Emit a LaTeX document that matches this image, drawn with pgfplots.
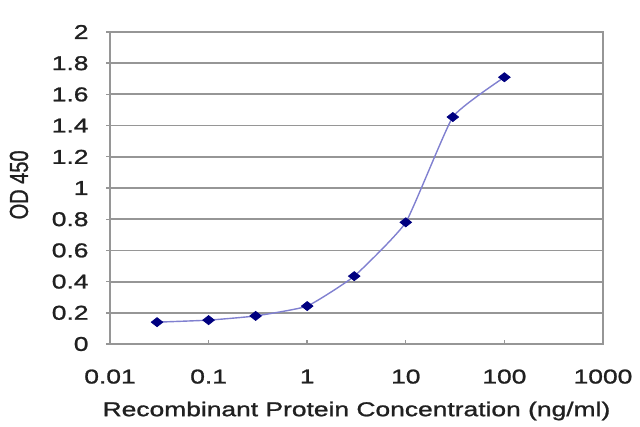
\documentclass[border=0pt]{standalone}
\usepackage{pgfplots}
\pgfplotsset{compat=1.18}
\usepackage{fontspec}
\setmainfont[FakeStretch=1.32,FakeBold=1.2]{Liberation Sans}
\newfontfamily\plainfont[FakeBold=1.2]{Liberation Sans}
\definecolor{linec}{HTML}{8080D0}
\definecolor{markc}{HTML}{000080}
\definecolor{gridc}{HTML}{969696}
\definecolor{txt}{HTML}{202020}
\begin{document}
\begin{tikzpicture}
\useasboundingbox (-110bp,-83bp) rectangle (530bp,344bp);
\begin{axis}[
  at={(0,0)}, anchor=south west,
  scale only axis, width=493bp, height=312bp,
  xmode=log, xmin=0.01, xmax=1000, ymin=0, ymax=2,
  xtick={0.01,0.1,1,10,100,1000},
  xticklabels={0.01,0.1,1,10,100,1000},
  ytick={0,0.2,0.4,0.6,0.8,1,1.2,1.4,1.6,1.8,2},
  yticklabels={0,0.2,0.4,0.6,0.8,1,1.2,1.4,1.6,1.8,2},
  xminorticks=false, yminorticks=false,
  /pgf/number format/assume math mode=true,
  ymajorgrids, grid style={gridc, line width=1.8bp},
  axis line style={gridc, line width=1.8bp},
  tick pos=left,
  xtick align=inside, ytick align=outside,
  major tick length=4bp,
  tick style={gridc, line width=1.4bp},
  ticklabel style={font=\fontsize{20bp}{24bp}\selectfont, text=txt},
  xticklabel style={yshift=-22bp},
  yticklabel style={xshift=-14bp},
  xlabel={Recombinant Protein Concentration (ng/ml)},
  xlabel style={at={(axis description cs:0.5,0)}, anchor=center, yshift=-67bp,
    font=\fontsize{20bp}{24bp}\selectfont, text=txt},
  ylabel={\scalebox{1}[1.3]{\plainfont OD 450}},
  ylabel style={at={(axis description cs:-0.1846,0.51)}, anchor=center,
    font=\fontsize{20bp}{24bp}\selectfont, text=txt},
  clip=false,
]
\addplot[linec, line width=1.4bp, smooth, tension=0.25,
  mark=diamond*, mark size=4.5bp, mark options={markc, fill=markc, line width=0.8bp, xscale=1.7}]
  coordinates {
  (0.03,0.14) (0.1,0.153) (0.3,0.18) (1,0.243) (3,0.435) (10,0.78) (30,1.455) (100,1.71)
  };
\end{axis}
\end{tikzpicture}
\end{document}
